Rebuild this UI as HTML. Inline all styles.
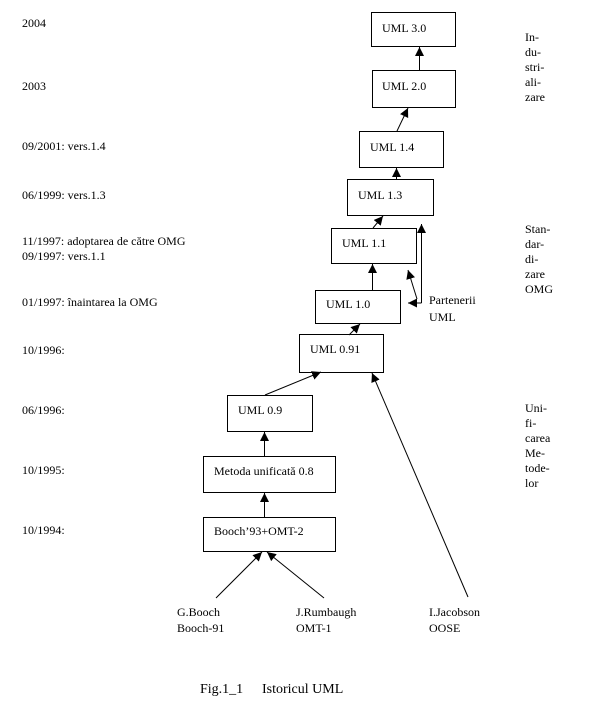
<!DOCTYPE html>
<html><head><meta charset="utf-8"><style>
html,body{margin:0;padding:0;background:#fff;}
svg text{font-family:"Liberation Serif",serif;font-size:12px;fill:#000;}
</style></head><body>
<svg width="600" height="710" viewBox="0 0 600 710" xmlns="http://www.w3.org/2000/svg">
<defs><marker id="a" viewBox="0 0 10 10" refX="10" refY="5" markerWidth="9" markerHeight="9" markerUnits="userSpaceOnUse" orient="auto"><path d="M0,0L10,5L0,10z" fill="#000"/></marker></defs>
<g fill="none" stroke="#000" stroke-width="1">
<rect x="371.5" y="12.5" width="84" height="34"/>
<rect x="372.5" y="70.5" width="83" height="37"/>
<rect x="359.5" y="131.5" width="84" height="36"/>
<rect x="347.5" y="179.5" width="86" height="36"/>
<rect x="331.5" y="228.5" width="85" height="35"/>
<rect x="315.5" y="290.5" width="85" height="33"/>
<rect x="299.5" y="334.5" width="84" height="38"/>
<rect x="227.5" y="395.5" width="85" height="36"/>
<rect x="203.5" y="456.5" width="132" height="36"/>
<rect x="203.5" y="517.5" width="132" height="34"/>
</g>
<g stroke="#000" stroke-width="1" marker-end="url(#a)">
<line x1="419.5" y1="70" x2="419.5" y2="47"/>
<line x1="397" y1="131" x2="408" y2="108"/>
<line x1="396.5" y1="179" x2="396.5" y2="168"/>
<line x1="373" y1="228" x2="383" y2="216"/>
<line x1="372.5" y1="290" x2="372.5" y2="264"/>
<line x1="421.5" y1="303" x2="421.5" y2="224"/>
<line x1="421.5" y1="303" x2="408" y2="303"/>
<line x1="417" y1="299" x2="408" y2="270"/>
<line x1="349" y1="335" x2="360" y2="324"/>
<line x1="265" y1="395" x2="321" y2="372"/>
<line x1="468" y1="597" x2="372" y2="373"/>
<line x1="264.5" y1="456" x2="264.5" y2="432"/>
<line x1="264.5" y1="517" x2="264.5" y2="493"/>
<line x1="216" y1="598" x2="262" y2="552"/>
<line x1="324" y1="598" x2="267" y2="552"/>
</g>
<text x="382" y="32">UML 3.0</text>
<text x="382" y="90">UML 2.0</text>
<text x="370" y="151">UML 1.4</text>
<text x="358" y="199">UML 1.3</text>
<text x="342" y="247">UML 1.1</text>
<text x="326" y="308">UML 1.0</text>
<text x="310" y="353">UML 0.91</text>
<text x="238" y="414">UML 0.9</text>
<text x="214" y="475">Metoda unificată 0.8</text>
<text x="214" y="535">Booch’93+OMT-2</text>
<text x="429" y="304">Partenerii</text>
<text x="429" y="321">UML</text>
<text x="22" y="27">2004</text>
<text x="22" y="90">2003</text>
<text x="22" y="150">09/2001: vers.1.4</text>
<text x="22" y="199">06/1999: vers.1.3</text>
<text x="22" y="245">11/1997: adoptarea de către OMG</text>
<text x="22" y="260">09/1997: vers.1.1</text>
<text x="22" y="306">01/1997: înaintarea la OMG</text>
<text x="22" y="354">10/1996:</text>
<text x="22" y="414">06/1996:</text>
<text x="22" y="474">10/1995:</text>
<text x="22" y="534">10/1994:</text>
<text x="525" y="41">In-</text>
<text x="525" y="56">du-</text>
<text x="525" y="71">stri-</text>
<text x="525" y="86">ali-</text>
<text x="525" y="101">zare</text>
<text x="525" y="233">Stan-</text>
<text x="525" y="248">dar-</text>
<text x="525" y="263">di-</text>
<text x="525" y="278">zare</text>
<text x="525" y="293">OMG</text>
<text x="525" y="412">Uni-</text>
<text x="525" y="427">fi-</text>
<text x="525" y="442">carea</text>
<text x="525" y="457">Me-</text>
<text x="525" y="472">tode-</text>
<text x="525" y="487">lor</text>
<text x="177" y="616">G.Booch</text>
<text x="177" y="632">Booch-91</text>
<text x="296" y="616">J.Rumbaugh</text>
<text x="296" y="632">OMT-1</text>
<text x="429" y="616">I.Jacobson</text>
<text x="429" y="632">OOSE</text>
<text x="200" y="693" style="font-size:14px">Fig.1_1</text>
<text x="262" y="693" style="font-size:14px">Istoricul UML</text>
</svg>
</body></html>
